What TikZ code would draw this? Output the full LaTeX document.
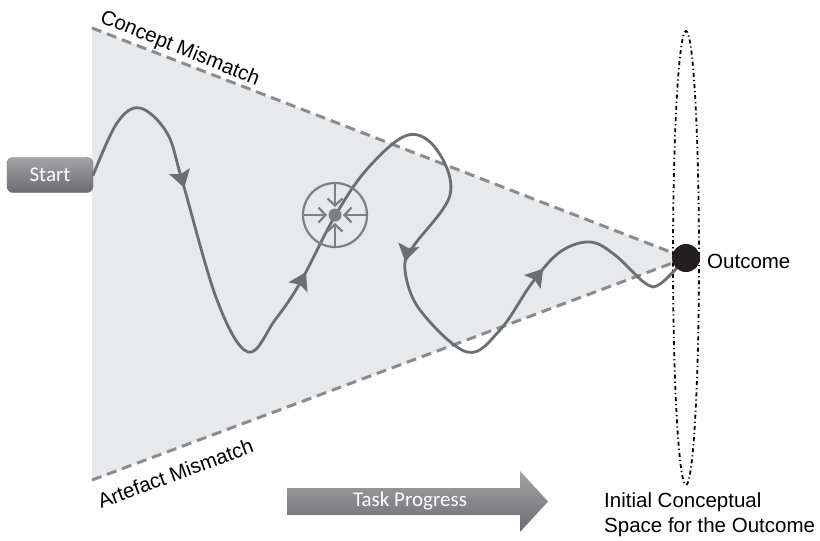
\documentclass[tikz,border=0pt]{standalone}
\usepackage{fontspec}
\setmainfont{Liberation Sans}
\newfontfamily\buttonfont{Carlito}
\usetikzlibrary{decorations.markings,arrows.meta}

\definecolor{conefill}{HTML}{E8E9EB}
\definecolor{pathgray}{HTML}{6D6E71}
\definecolor{edgegray}{HTML}{8C8C8F}
\definecolor{ringgray}{HTML}{7E7F82}
\definecolor{dotblack}{HTML}{231F20}
\definecolor{boxtop}{HTML}{A4A4A7}
\definecolor{boxbottom}{HTML}{6C6C70}

\tikzset{
  mismatch/.style={edgegray, line width=3pt, dash pattern=on 10pt off 6pt},
  labeltext/.style={font=\fontsize{20.5}{25}\selectfont, text=black, inner sep=0pt},
  buttontext/.style={font=\buttonfont\fontsize{21}{24}\selectfont, text=white},
  button/.style={rounded corners=6pt, top color=boxtop, bottom color=boxbottom,
    draw=boxbottom, buttontext},
  journey/.style={pathgray, line width=2.8pt, line cap=round},
  focusring/.style={ringgray, line width=2.2pt},
  waytip/.tip={Stealth[length=17pt,width=21pt,inset=3pt]},
}

\begin{document}
\begin{tikzpicture}[x=1pt, y=-1pt]
	\useasboundingbox (0,0) rectangle (820,541);
	\coordinate (conetop) at (92,28);
	\coordinate (conebottom) at (92,480);
	\coordinate (apex) at (686,258);

	% cone of possible concepts
	\fill[conefill] (conetop) -- (apex) -- (conebottom) -- cycle;
	\draw[mismatch] (conetop) -- (apex);
	\draw[mismatch] (conebottom) -- (apex);
	\node[labeltext, anchor=base west, rotate=-22] (concept) at (99,22) {Concept Mismatch};
	\node[labeltext, anchor=base west, rotate=20.4] (artefact) at (101,509) {Artefact Mismatch};

	% initial conceptual space
	\draw[line width=1.8pt, dash pattern=on 4pt off 3pt on 1.2pt off 3pt] (apex) ellipse (13 and 227);

	\node[button, minimum width=86pt, minimum height=35pt, inner sep=0pt] (start) at (50,175) {Start};

	% design path
	\draw[journey, decoration={markings,
			mark=at position 0.150 with {\arrow{waytip}},
			mark=at position 0.381 with {\arrow{waytip}},
			mark=at position 0.660 with {\arrow{waytip}},
			mark=at position 0.852 with {\arrow{waytip}}}, postaction={decorate}]
		plot[smooth, tension=0.6] coordinates {(start.east) (117,123) (140,108) (167,133) (182,180)
			(217,300) (248,352) (275,320) (300,283) (335,216) (368,168) (408,135) (437,150)
			(450,195) (413,247) (405,270) (420,310) (467,352) (500,330) (532,283) (560,252)
			(590,242) (615,255) (645,283) (660,284) (apex)};

	% focus point
	\coordinate (focus) at (335,215);
	\draw[focusring] (focus) circle (32);
	\foreach \a in {0,90,180,270}
		\draw[focusring, -{Straight Barb[length=7pt,width=15pt]}] (focus) ++(\a:32) -- ++(\a:-24);
	\fill[ringgray] (focus) circle (6.5);

	\node[circle, fill=dotblack, minimum size=28pt, inner sep=0pt] (outcome) at (apex) {};
	\node[labeltext, anchor=west] (outcomelabel) at (707,261) {Outcome};
	\node[labeltext, anchor=north west, align=left] (space) at (604,492) {Initial Conceptual\\Space for the Outcome};

	% progress arrow
	\shade[top color=boxtop, bottom color=boxbottom] (287,488) -- (520,488) -- (520,471) -- (548,501.5)
		-- (520,532) -- (520,515) -- (287,515) -- cycle;
	\node[buttontext] (progress) at (410,501) {Task Progress};
\end{tikzpicture}
\end{document}
